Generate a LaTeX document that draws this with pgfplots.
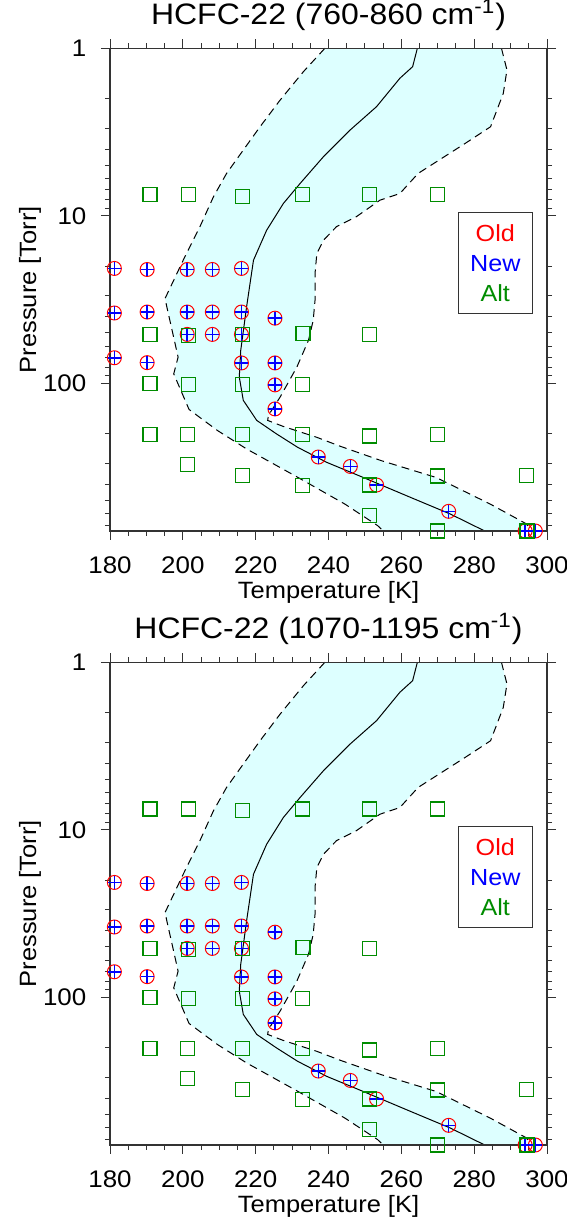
\documentclass[border=0pt]{standalone}
\usepackage{pgfplots}
\pgfplotsset{compat=1.18}
\usepackage{fontspec}
\setmainfont[FakeStretch=1.08]{Liberation Sans}
\definecolor{fillc}{RGB}{221,255,255}
\definecolor{altg}{RGB}{0,140,0}

\begin{document}
\begin{tikzpicture}
\useasboundingbox (0,0) rectangle (283.5pt,610.5pt);
\foreach \ypos/\ttl in {345pt/{HCFC-22 (760-860 cm\textsuperscript{-1})},38pt/{HCFC-22 (1070-1195 cm\textsuperscript{-1})}}{
\begin{axis}[at={(55pt,\ypos)}, anchor=south west,
    title={\ttl},
    scale only axis, width=218.5pt, height=241.35pt,
    xmin=180, xmax=300, ymin=1, ymax=760,
    ymode=log, y dir=reverse,
    xtick={180,200,...,300}, minor x tick num=3,
    ytick={1,10,100}, yticklabels={1,10,100},
    minor ytick={2,3,4,5,6,7,8,9,20,30,40,50,60,70,80,90,200,300,400,500,600,700},
    tick align=outside,
    major tick length=4.5pt, minor tick length=2.5pt,
    axis line style={black!80, line width=0.65pt},
    tick style={black!80, line width=0.5pt},
    clip=false, axis on top,
    /pgf/number format/assume math mode=true,
    xticklabel style={font=\fontsize{12}{14}\selectfont, anchor=base, yshift=-16.7pt},
    yticklabel style={font=\fontsize{12}{14}\selectfont, anchor=east, xshift=-3.8pt},
    xlabel={Temperature [K]}, ylabel={Pressure [Torr]},
    label style={font=\fontsize{11.8}{14}\selectfont},
    xlabel style={at={(axis description cs:0.5,0)}, anchor=base, yshift=-33.9pt},
    ylabel style={at={(axis description cs:-0.1693,0.5)}, anchor=base},
    title style={at={(axis description cs:0.5,1)}, anchor=base, yshift=6.1pt,
      font=\fontsize{14.8}{17}\selectfont}]
\addplot[fill=fillc, draw=none] coordinates {
(239.0,1) (233.1,1.38) (226.7,2.04) (221.2,2.94) (216.6,4.05) (212.0,5.59)
(208.4,7.70) (204.7,11.6) (200.1,18.4) (195.1,31.2)
(198.7,69.7) (197.5,87.7) (201.7,143) (209.5,191) (217.5,246) (231.6,364)
(244.5,525) (253.5,706) (255.0,760)
(295.3,760) (294.4,690.2) (284.4,524.8) (269.5,363.9) (254.5,289.1) (243.2,237.1)
(236.7,209.4) (227.6,180.7) (223.3,166.3) (223.5,155.2) (226.7,120.8) (231.3,79.98)
(234.5,55.34) (235.8,42.07) (236.3,31.9) (236.3,22.1) (236.8,16.8) (238.6,14.0)
(242.2,11.6) (247.7,10.1) (254.1,8.07) (259.6,7.36)
(264.6,5.585) (277.5,3.70) (284.5,2.94) (288.0,1.858) (289.0,1.349) (287.5,1)
(239.0,1)};
\addplot[black, line width=0.5pt, dash pattern=on 4pt off 2.6pt] coordinates {
(239.0,1) (233.1,1.38) (226.7,2.04) (221.2,2.94) (216.6,4.05) (212.0,5.59)
(208.4,7.70) (204.7,11.6) (200.1,18.4) (195.1,31.2)
(198.7,69.7) (197.5,87.7) (201.7,143) (209.5,191) (217.5,246) (231.6,364)
(244.5,525) (253.5,706) (255.0,760)};
\addplot[black, line width=0.5pt, dash pattern=on 4pt off 2.6pt] coordinates {
(287.5,1) (289.0,1.349) (288.0,1.858) (284.5,2.94) (277.5,3.70) (264.6,5.585)
(259.6,7.36) (254.1,8.07) (247.7,10.1) (242.2,11.6) (238.6,14.0) (236.8,16.8)
(236.3,22.1) (236.3,31.9) (235.8,42.07) (234.5,55.34)
(231.3,79.98) (226.7,120.8) (223.5,155.2) (223.3,166.3) (227.6,180.7) (236.7,209.4)
(243.2,237.1) (254.5,289.1) (269.5,363.9) (284.4,524.8) (294.4,690.2) (295.3,760)};
\addplot[black, line width=0.5pt] coordinates {
(264.4,1) (263.1,1.288) (259.6,1.51) (253.2,2.23) (245.9,3.08) (238.6,4.44)
(232.2,6.41) (227.6,8.44) (223.0,12.2) (219.4,18.4) (217.5,35.0)
(215.9,63.5) (215.5,91.6) (216.6,126.2)
(220.3,166.3) (225.7,200) (231.5,240.4) (239.5,295.8) (249.5,363.9) (262.5,478.6)
(273.5,602.6) (282.9,760)};
\addplot[only marks, mark=o, red, mark size=3.5pt, line width=0.5pt] coordinates {
(181.2,20.6) (190.2,20.9) (201.2,20.9) (208.1,20.9) (216.1,20.6)
(181.2,38.0) (190.2,37.5) (201.2,37.5) (208.1,37.5) (216.1,37.5) (225.3,40.8)
(201.2,51) (208.1,51) (216.1,51)
(181.2,70.3) (190.2,75.2) (216.1,75.5) (225.3,75.5)
(225.3,102) (225.3,142)
(237.2,275) (246.0,313) (253.2,404) (273.0,580) (294.0,760) (296.8,760)};
\addplot[only marks, mark=+, blue, mark size=3.3pt, line width=0.8pt] coordinates {
(181.2,20.6) (190.2,20.9) (201.2,20.9) (208.1,20.9) (216.1,20.6)
(181.2,38.0) (190.2,37.5) (201.2,37.5) (208.1,37.5) (216.1,37.5) (225.3,40.8)
(201.2,51) (208.1,51) (216.1,51)
(181.2,70.3) (190.2,75.2) (216.1,75.5) (225.3,75.5)
(225.3,102) (225.3,142)
(237.2,275) (246.0,313) (253.2,404) (273.0,580) (294.0,760) (296.8,760)};
\addplot[only marks, mark=square, altg, mark size=3.5pt, line width=0.6pt] coordinates {
(191.0,7.5) (201.5,7.5) (216.4,7.7) (232.8,7.5) (251.3,7.5) (270.0,7.5)
(191.0,51) (201.5,52) (216.4,51) (233.0,50.6) (251.3,51)
(191.0,100.5) (201.5,101) (216.4,101) (232.8,101)
(191.0,201) (201.3,201) (216.4,201) (232.8,201) (251.3,206) (270.0,201)
(201.3,305) (216.4,354) (270.0,357) (294.3,356)
(232.8,406) (251.3,404)
(251.3,611)
(270.0,760) (294.5,760)};
\node[draw=black!80, line width=0.5pt, minimum width=37pt, minimum height=50.7pt,
  inner sep=0pt, align=center, font=\fontsize{11.65}{14.85}\selectfont]
  at (axis description cs:0.8817,0.5552)
  {\textcolor{red}{Old}\\\textcolor{blue}{New}\\\textcolor{altg}{Alt}};
\end{axis}
}
\end{tikzpicture}
\end{document}
